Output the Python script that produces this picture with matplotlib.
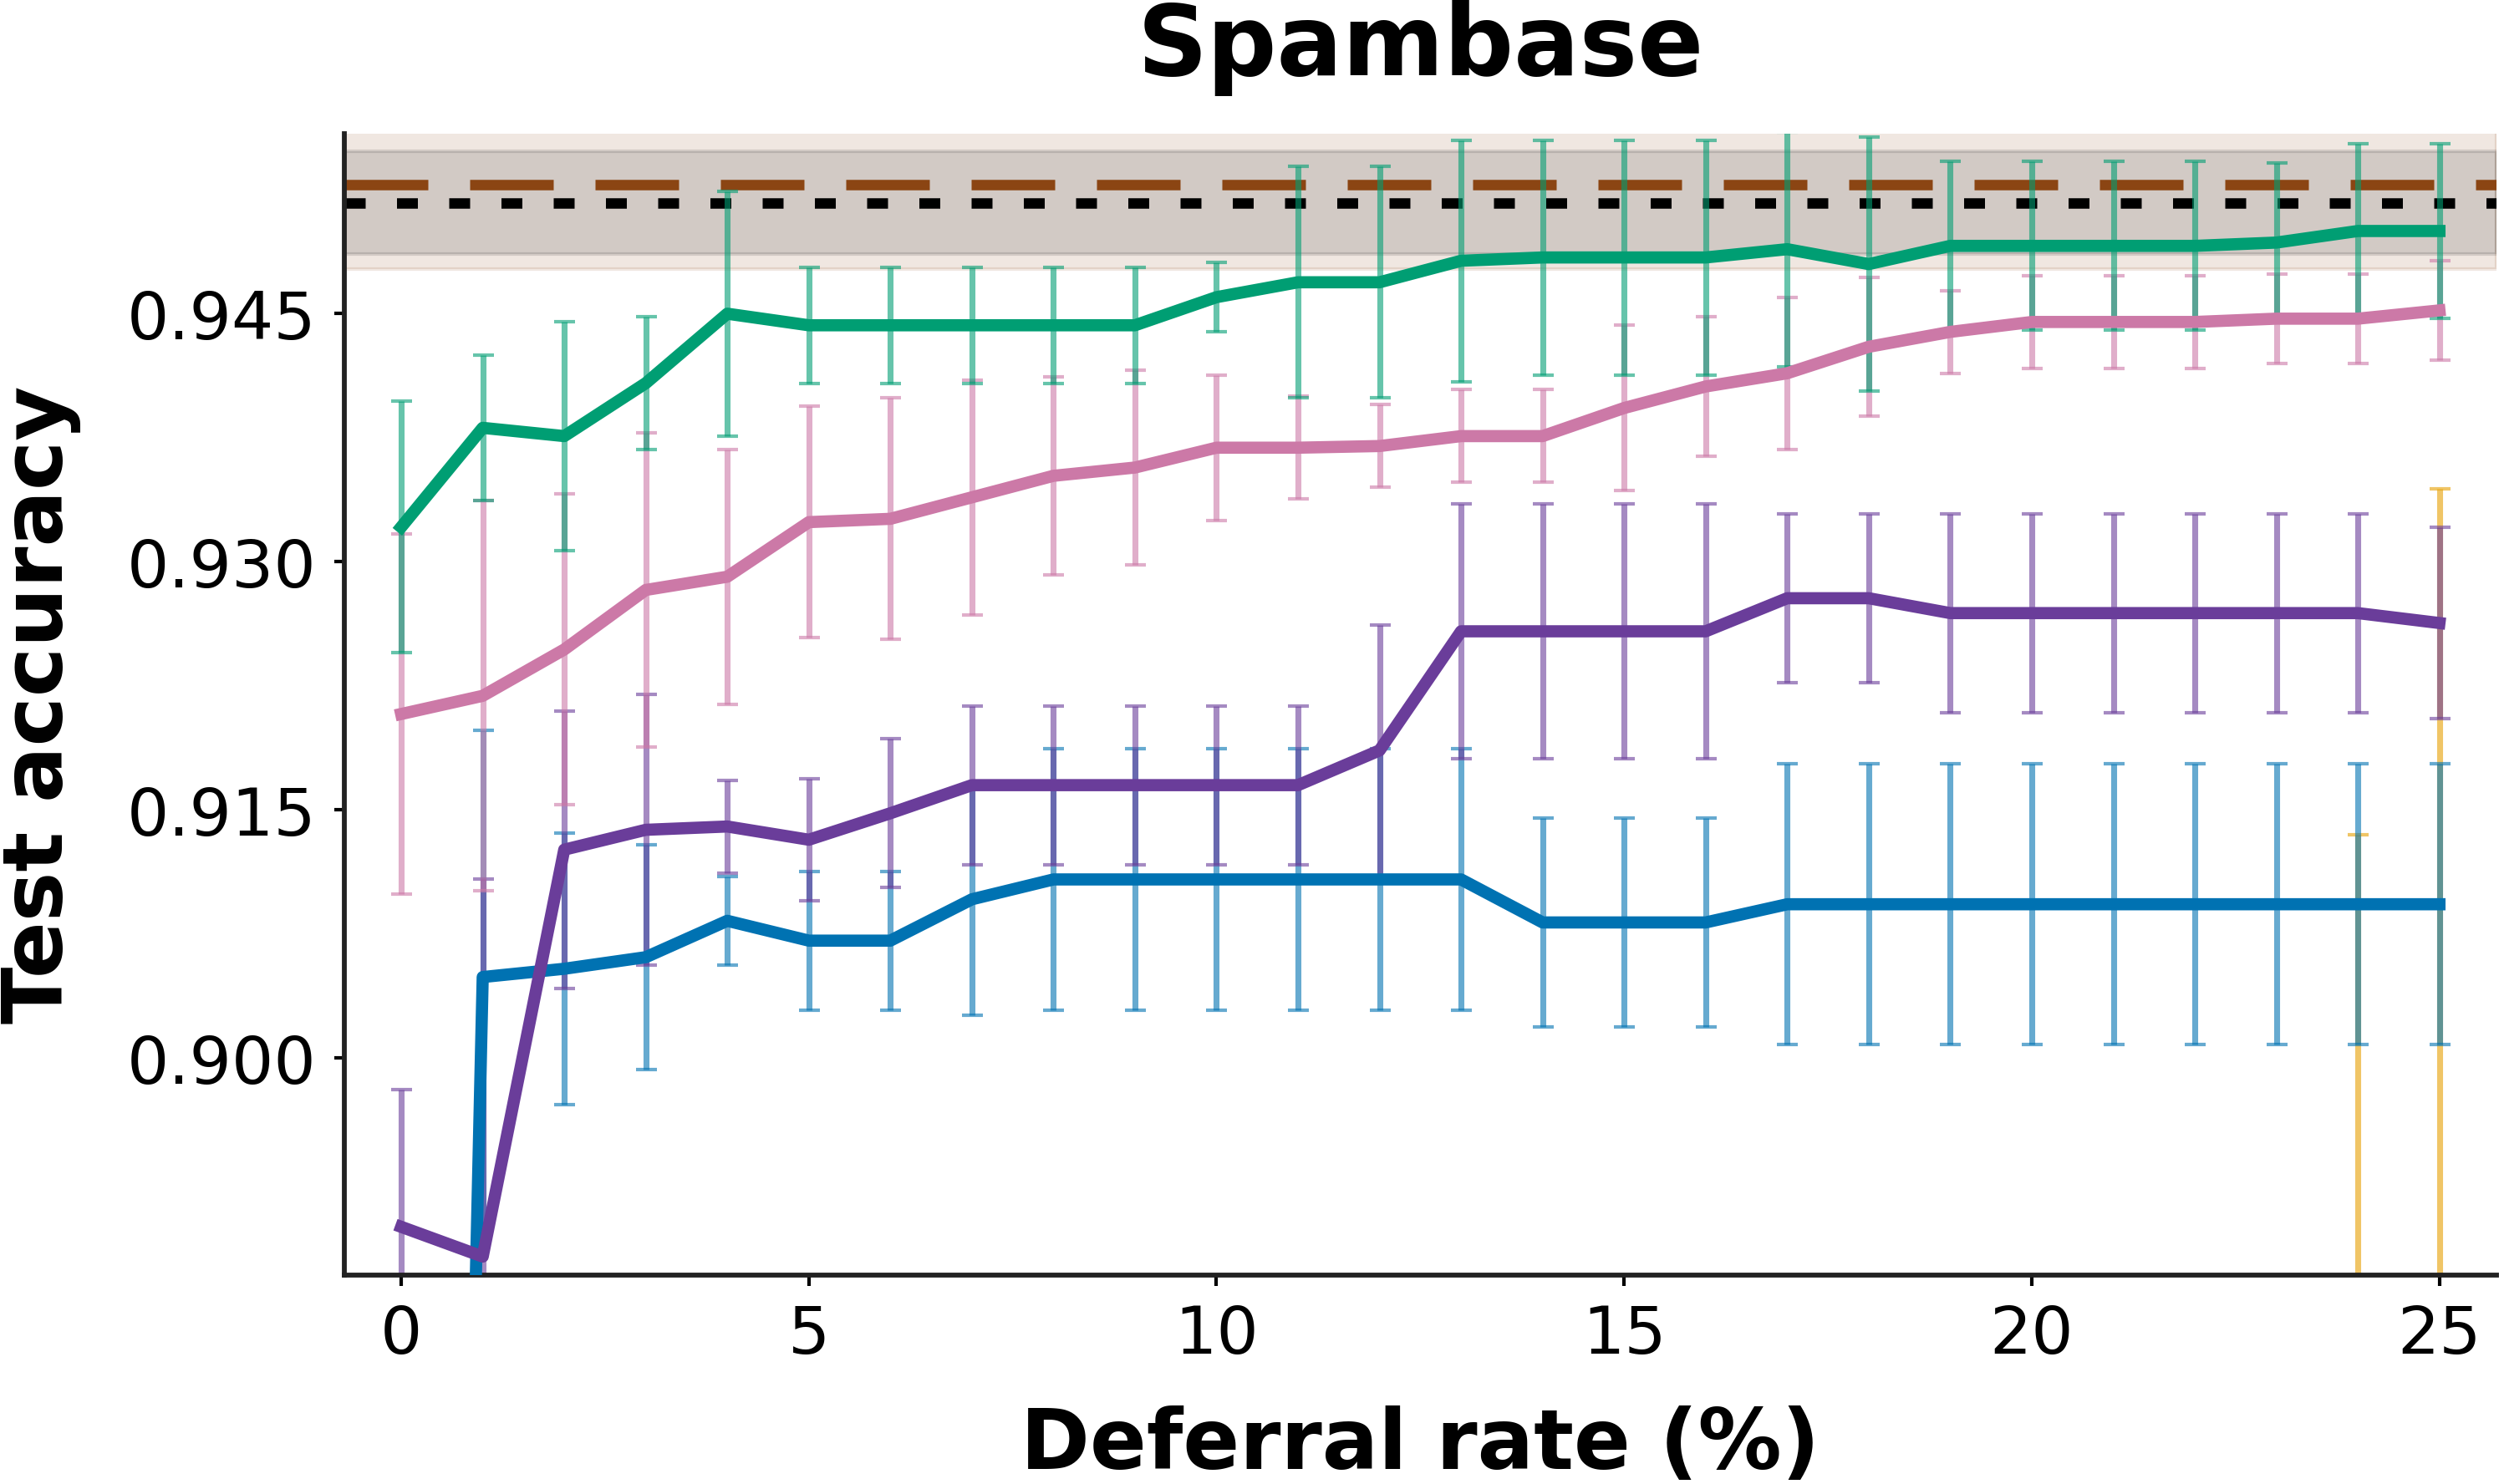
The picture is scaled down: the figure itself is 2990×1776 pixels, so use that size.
import matplotlib
matplotlib.use("Agg")
import matplotlib.pyplot as plt
from matplotlib.ticker import FixedLocator, FormatStrFormatter

# deferral rate (%)
rates = list(range(26))

# moyennes / écarts-types
green_mean = [0.9321, 0.9381, 0.9376, 0.9408, 0.9450, 0.9443, 0.9443, 0.9443, 0.9443, 0.9443,
              0.9460, 0.9469, 0.9469, 0.9482, 0.9484, 0.9484, 0.9484, 0.9489, 0.9480, 0.9491,
              0.9491, 0.9491, 0.9491, 0.9493, 0.9500, 0.9500]
green_std = [0.0076, 0.0044, 0.0069, 0.0040, 0.0074, 0.0035, 0.0035, 0.0035, 0.0035, 0.0035,
             0.0021, 0.0070, 0.0070, 0.0073, 0.0071, 0.0071, 0.0071, 0.0071, 0.0077, 0.0051,
             0.0051, 0.0051, 0.0051, 0.0048, 0.0053, 0.0053]

pink_mean = [0.9208, 0.9219, 0.9247, 0.9283, 0.9291, 0.9324, 0.9326, 0.9339, 0.9352, 0.9357,
             0.9369, 0.9369, 0.9370, 0.9376, 0.9376, 0.9393, 0.9406, 0.9414, 0.9430, 0.9439,
             0.9445, 0.9445, 0.9445, 0.9447, 0.9447, 0.9452]
pink_std = [0.0109, 0.0118, 0.0094, 0.0095, 0.0077, 0.0070, 0.0073, 0.0071, 0.0060, 0.0059,
            0.0044, 0.0031, 0.0025, 0.0028, 0.0028, 0.0050, 0.0042, 0.0046, 0.0042, 0.0025,
            0.0028, 0.0028, 0.0028, 0.0027, 0.0027, 0.0030]

purple_mean = [0.8898, 0.8880, 0.9126, 0.9138, 0.9140, 0.9132, 0.9148, 0.9165, 0.9165, 0.9165,
               0.9165, 0.9165, 0.9186, 0.9258, 0.9258, 0.9258, 0.9258, 0.9278, 0.9278, 0.9269,
               0.9269, 0.9269, 0.9269, 0.9269, 0.9269, 0.9263]
purple_std = [0.0083, 0.0228, 0.0084, 0.0082, 0.0028, 0.0037, 0.0045, 0.0048, 0.0048, 0.0048,
              0.0048, 0.0048, 0.0076, 0.0077, 0.0077, 0.0077, 0.0077, 0.0051, 0.0051, 0.0060,
              0.0060, 0.0060, 0.0060, 0.0060, 0.0060, 0.0058]

blue_mean = [0.690, 0.9049, 0.9054, 0.9061, 0.9083, 0.9071, 0.9071, 0.9096, 0.9108, 0.9108,
             0.9108, 0.9108, 0.9108, 0.9108, 0.9082, 0.9082, 0.9082, 0.9093, 0.9093, 0.9093,
             0.9093, 0.9093, 0.9093, 0.9093, 0.9093, 0.9093]
blue_std = [0.020, 0.0149, 0.0082, 0.0068, 0.0027, 0.0042, 0.0042, 0.0070, 0.0079, 0.0079,
            0.0079, 0.0079, 0.0079, 0.0079, 0.0063, 0.0063, 0.0063, 0.0085, 0.0085, 0.0085,
            0.0085, 0.0085, 0.0085, 0.0085, 0.0085, 0.0085]

# série orange : seulement visible à 24 et 25 %, moyenne sous l'axe
orange_rates = [24, 25]
orange_mean = [0.865, 0.875]
orange_std = [0.0485, 0.0594]

# références horizontales (moyenne ± écart-type)
brown_ref, brown_ref_std = 0.9528, 0.0051
black_ref, black_ref_std = 0.9517, 0.0031

series = [
    (orange_rates, orange_mean, orange_std, "#E69F00"),
    (rates, blue_mean, blue_std, "#0072B2"),
    (rates, purple_mean, purple_std, "#6A3D9A"),
    (rates, pink_mean, pink_std, "#CC79A7"),
    (rates, green_mean, green_std, "#009E73"),
]

fig = plt.figure(figsize=(2990 / 300, 1777 / 300), dpi=300)
ax = fig.add_axes([0.1377, 0.1409, 0.8613, 0.7687])

# bandes de référence
ax.axhspan(brown_ref - brown_ref_std, brown_ref + brown_ref_std, color="#8B4513", alpha=0.125, zorder=1)
ax.axhspan(black_ref - black_ref_std, black_ref + black_ref_std, color="black", alpha=0.12, zorder=1)
ax.axhline(brown_ref, color="#8B4513", lw=3, dashes=(8, 4), zorder=1.5)
ax.axhline(black_ref, color="black", lw=3, dashes=(2, 3), zorder=1.5)

for xs, m, s, c in series:
    ax.errorbar(xs, m, yerr=s, fmt="none", ecolor=c, alpha=0.6, elinewidth=1.7,
                capsize=3, capthick=1.0, zorder=2)
for xs, m, s, c in series:
    ax.plot(xs, m, color=c, lw=3.5, zorder=3)

ax.set_xlim(-0.7, 25.7)
ax.set_ylim(0.8869, 0.9559)
ax.set_xticks([0, 5, 10, 15, 20, 25])
ax.yaxis.set_major_locator(FixedLocator([0.900, 0.915, 0.930, 0.945]))
ax.yaxis.set_major_formatter(FormatStrFormatter("%.3f"))

for side in ["top", "right"]:
    ax.spines[side].set_visible(False)
for side in ["left", "bottom"]:
    ax.spines[side].set_linewidth(1.4)
    ax.spines[side].set_color("#222222")
ax.tick_params(labelsize=19, length=3, width=1.0, pad=5)

ax.set_title("Spambase", fontsize=28, fontweight="bold", pad=17)
ax.set_xlabel("Deferral rate (%)", fontsize=24, fontweight="bold", labelpad=11)
ax.set_ylabel("Test accuracy", fontsize=24, fontweight="bold", labelpad=13)

fig.savefig("out.png", dpi=300)
